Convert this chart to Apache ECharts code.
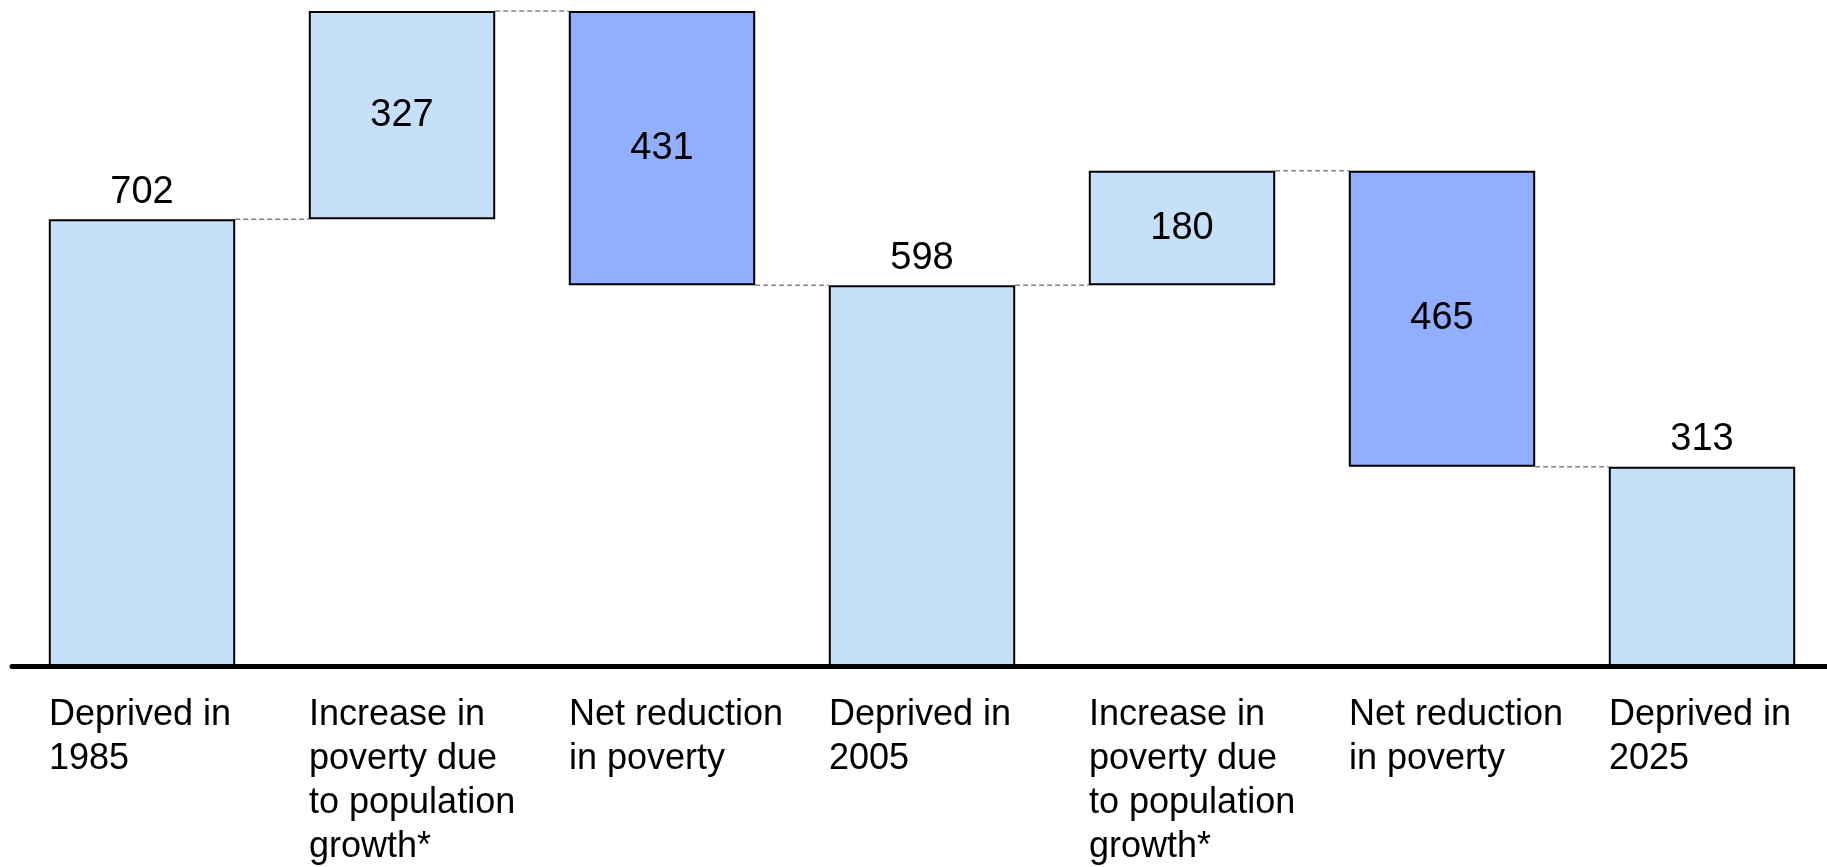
<!DOCTYPE html>
<html>
<head>
<meta charset="utf-8">
<style>
  html, body { margin: 0; padding: 0; background: #ffffff; }
  #chart { width: 1827px; height: 867px; }
</style>
<script src="https://cdn.jsdelivr.net/npm/echarts@6/dist/echarts.min.js"></script>
</head>
<body>
<div id="chart"></div>
<script>
// Poverty waterfall: deprived population and the changes between years
const categories = [
  'Deprived in\n1985',
  'Increase in\npoverty due\nto population\ngrowth*',
  'Net reduction\nin poverty',
  'Deprived in\n2005',
  'Increase in\npoverty due\nto population\ngrowth*',
  'Net reduction\nin poverty',
  'Deprived in\n2025'
];
const values = [702, 327, 431, 598, 180, 465, 313];
const kinds = ['total', 'increase', 'decrease', 'total', 'increase', 'decrease', 'total'];

const colors = { total: '#C6E0F9', increase: '#C6E0F9', decrease: '#92AFFF' };
const BAR_RATIO = 0.717;

// Work out floating bases and the level each step ends at
const bases = [];
const endLevels = [];
let level = 0;
values.forEach((v, i) => {
  const k = kinds[i];
  if (k === 'total') { bases.push(0); level = v; }
  else if (k === 'increase') { bases.push(level); level = level + v; }
  else { bases.push(level - v); level = level - v; }
  endLevels.push(level);
});
const connectors = endLevels.slice(0, -1).map((lv, i) => [i, lv]);

const chart = echarts.init(document.getElementById('chart'));
chart.setOption({
  animation: false,
  backgroundColor: '#ffffff',
  grid: { left: 12, width: 1820, top: 4, height: 662, outerBoundsMode: 'none', containLabel: false },
  xAxis: {
    type: 'category',
    data: categories,
    z: 10,
    axisLine: { show: true, lineStyle: { color: '#000000', width: 5 } },
    axisTick: { show: false },
    axisLabel: {
      margin: 27,
      interval: 0,
      formatter: function (val) {
        return val.split('\n').map(s => '{t|' + s + '}').join('\n');
      },
      rich: {
        t: {
          width: Math.round(260 * BAR_RATIO),
          align: 'left',
          fontFamily: '"Liberation Sans", Arial, sans-serif',
          fontSize: 36,
          lineHeight: 44,
          color: '#000000'
        }
      }
    }
  },
  yAxis: { type: 'value', min: 0, max: 1040, show: false, splitLine: { show: false } },
  series: [
    {
      name: 'base',
      type: 'bar',
      stack: 'w',
      silent: true,
      barWidth: (BAR_RATIO * 100) + '%',
      itemStyle: { color: 'rgba(0,0,0,0)', borderWidth: 0 },
      data: bases
    },
    {
      name: 'value',
      type: 'bar',
      stack: 'w',
      barWidth: (BAR_RATIO * 100) + '%',
      data: values.map((v, i) => ({
        value: v,
        itemStyle: { color: colors[kinds[i]], borderColor: '#000000', borderWidth: 2 },
        label: {
          show: true,
          position: kinds[i] === 'total' ? 'top' : 'inside',
          distance: 8,
          fontFamily: '"Liberation Sans", Arial, sans-serif',
          fontSize: 38,
          color: '#000000'
        }
      }))
    },
    {
      name: 'connectors',
      type: 'custom',
      silent: true,
      z: 1,
      data: connectors,
      renderItem: function (params, api) {
        const i = api.value(0);
        const lv = api.value(1);
        const a = api.coord([i, lv]);
        const b = api.coord([i + 1, lv]);
        const half = api.size([1, 0])[0] * BAR_RATIO / 2;
        return {
          type: 'line',
          shape: { x1: a[0] + half, y1: a[1], x2: b[0] - half, y2: b[1] },
          style: { stroke: '#808080', lineWidth: 1.5, lineDash: [5, 3] }
        };
      }
    }
  ]
});
</script>
</body>
</html>
